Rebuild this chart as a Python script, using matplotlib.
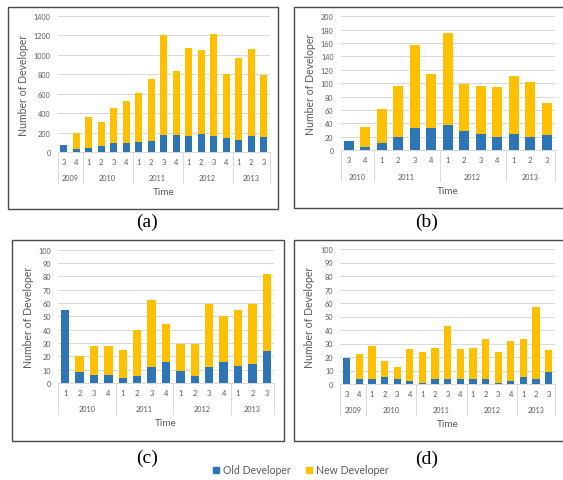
import matplotlib
matplotlib.use("Agg")
import matplotlib.pyplot as plt
from matplotlib.patches import Rectangle, Patch

# quarters and years shown on each multi-level category axis
quarters_a = ["3", "4", "1", "2", "3", "4", "1", "2", "3", "4", "1", "2", "3", "4", "1", "2", "3"]
years_a = ["2009", "2010", "2011", "2012", "2013"]
year_counts_a = [2, 4, 4, 4, 3]
old_a = [70, 28, 45, 62, 90, 90, 100, 117, 172, 172, 162, 186, 162, 145, 124, 165, 152]
new_a = [0, 167, 315, 243, 365, 435, 510, 638, 1028, 663, 913, 859, 1053, 655, 841, 895, 638]

quarters_b = ["3", "4", "1", "2", "3", "4", "1", "2", "3", "4", "1", "2", "3"]
years_b = ["2010", "2011", "2012", "2013"]
year_counts_b = [2, 4, 4, 3]
old_b = [14, 5, 10, 19, 33, 33, 38, 29, 24, 20, 24, 19, 23]
new_b = [0, 30, 51, 77, 124, 81, 137, 70, 71, 74, 87, 82, 47]

quarters_c = ["1", "2", "3", "4", "1", "2", "3", "4", "1", "2", "3", "4", "1", "2", "3"]
years_c = ["2010", "2011", "2012", "2013"]
year_counts_c = [4, 4, 4, 3]
old_c = [55, 8, 6, 6, 4, 5, 12, 16, 9, 5, 12, 16, 13, 14, 24]
new_c = [0, 12, 22, 22, 21, 35, 50, 28, 20, 24, 47, 34, 42, 45, 58]

quarters_d = quarters_a
years_d = years_a
year_counts_d = year_counts_a
old_d = [19, 3.5, 4, 5, 4, 2, 1, 3.5, 3.5, 3.5, 4, 4, 1, 2, 5, 4, 9]
new_d = [0, 18.5, 24, 12, 8.5, 24, 23, 23.5, 39.5, 22.5, 23, 29, 23, 30, 28, 53, 16]

BLUE = "#2E75B6"
YELLOW = "#FFC000"
GRID = "#D9D9D9"
TXT = "#595959"
W, H = 563, 481

plt.rcParams["font.family"] = ["Lato", "DejaVu Sans"]
fig = plt.figure(figsize=(W / 100, H / 100), dpi=100)


def fx(x):
    return x / W


def fy(y):
    return 1 - y / H


def panel(box, frame, ymax, ystep, quarters, years, counts, old, new, caption, cap_xy, ylab_px):
    left, top, right, bottom = box
    ax = fig.add_axes([fx(left), fy(bottom), fx(right) - fx(left), fy(top) - fy(bottom)])
    h_px = bottom - top
    x = list(range(len(quarters)))
    ax.bar(x, old, width=0.58, color=BLUE, zorder=3)
    ax.bar(x, new, width=0.58, bottom=old, color=YELLOW, zorder=3)
    ax.set_xlim(-0.5, len(quarters) - 0.5)
    ax.set_ylim(0, ymax)
    ax.set_yticks(range(0, ymax + 1, ystep))
    ax.yaxis.grid(True, color=GRID, lw=0.7, zorder=0)
    for s in ["top", "right", "left"]:
        ax.spines[s].set_visible(False)
    ax.spines["bottom"].set_color(GRID)
    ax.spines["bottom"].set_linewidth(0.7)
    ax.tick_params(axis="y", length=0, labelsize=5.2, labelcolor=TXT, pad=5)
    ax.set_xticks(x)
    ax.set_xticklabels(quarters)
    ax.tick_params(axis="x", length=0, labelsize=5.4, labelcolor=TXT, pad=4.2)

    # year row and group separators
    xt = ax.get_xaxis_transform()
    pos = -0.5
    ax.plot([pos, pos], [0, -31 / h_px], color=GRID, lw=0.7, transform=xt, clip_on=False)
    for yr, n in zip(years, counts):
        ax.text(pos + n / 2, -26 / h_px, yr, transform=xt, ha="center", va="center",
                fontsize=5.2, color=TXT)
        pos += n
        ax.plot([pos, pos], [0, -31 / h_px], color=GRID, lw=0.7, transform=xt, clip_on=False)

    ax.text(0.5, -40 / h_px, "Time", transform=ax.transAxes, ha="center", va="center",
            fontsize=7.2, color=TXT)
    ax.set_ylabel("Number of Developer", fontsize=7.6, color=TXT)
    ax.yaxis.set_label_coords(-ylab_px / (right - left), 0.5)

    fl, ft, fr, fb = frame
    fig.add_artist(Rectangle((fx(fl), fy(fb)), fx(fr) - fx(fl), fy(ft) - fy(fb),
                             transform=fig.transFigure, fill=False, edgecolor="#4a4a4a", lw=1.0))
    fig.text(fx(cap_xy[0]), fy(cap_xy[1]), caption, ha="center", va="center",
             fontsize=14, family="Liberation Serif")
    return ax


panel((57.5, 17, 270, 153), (8, 8, 278, 210), 1400, 200,
      quarters_a, years_a, year_counts_a, old_a, new_a, "(a)", (147, 222), 28)
panel((340.5, 17.3, 555, 151), (294, 8, 566, 209), 200, 20,
      quarters_b, years_b, year_counts_b, old_b, new_b, "(b)", (427, 222), 25)
panel((58, 250.7, 274, 384), (12, 241, 284, 442), 100, 10,
      quarters_c, years_c, year_counts_c, old_c, new_c, "(c)", (147, 458), 24.5)
panel((340.4, 250, 555, 385), (294, 241, 566, 442), 100, 10,
      quarters_d, years_d, year_counts_d, old_d, new_d, "(d)", (427, 459), 25)

handles = [Patch(color=BLUE, label="Old Developer"), Patch(color=YELLOW, label="New Developer")]
leg = fig.legend(handles=handles, loc="center", bbox_to_anchor=(fx(301), fy(471)), ncol=2,
                 frameon=False, fontsize=7.6, handlelength=0.55, handleheight=0.55,
                 handletextpad=0.35, columnspacing=1.5)
for t in leg.get_texts():
    t.set_color(TXT)

fig.savefig("out.png", dpi=100)
